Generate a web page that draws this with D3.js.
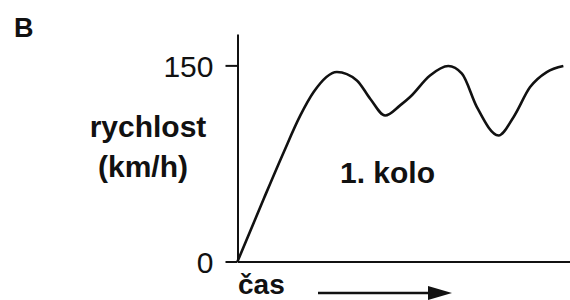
<!DOCTYPE html>
<html>
<head>
  <meta charset="utf-8">
  <script src="https://cdn.jsdelivr.net/npm/d3@7"></script>
  <style>
    body { margin: 0; background: #fff; }
    svg text { font-family: "Liberation Sans", Arial, Helvetica, sans-serif; fill: #111; }
    .axis path, .axis line { stroke: #111; stroke-width: 2; }
  </style>
</head>
<body>
<script>
  // time (arbitrary units 0-100) and speed (km/h)
  var time  = [0, 7.9, 13.9, 18.9, 22.9, 29.9, 35.9, 39.9, 44.4, 48.9, 51.9, 57.9, 63.4, 67.5, 72, 78.5, 83, 88, 93, 98];
  var speed = [0, 48, 83.6, 111.7, 129.6, 144.9, 138.5, 124.5, 111.7, 119.4, 125.8, 142.3, 149.5, 143.7, 118.1, 96.4, 110.4, 133.4, 144.9, 149.5];
  var yTicks = [0, 150];

  var width = 570, height = 300;

  var svg = d3.select("body")
    .append("svg")
      .attr("width", width)
      .attr("height", height);

  var x = d3.scaleLinear().domain([0, 100]).range([237.5, 570]);
  var y = d3.scaleLinear().domain([0, 174]).range([261.5, 34]);

  // y axis
  var yAxis = d3.axisLeft(y)
    .tickValues(yTicks)
    .tickSize(12)
    .tickSizeOuter(0)
    .tickPadding(12);

  var gy = svg.append("g")
    .attr("class", "axis")
    .attr("transform", "translate(" + x(0) + ",0)")
    .call(yAxis);
  gy.selectAll("text")
    .style("font-size", "30px")
    .attr("dy", "0.36em");

  // x axis, no ticks
  svg.append("g")
    .attr("class", "axis")
    .attr("transform", "translate(0," + y(0) + ")")
    .call(d3.axisBottom(x).tickValues([]).tickSizeOuter(0));

  // curve
  var line = d3.line()
    .x(function(d, i) { return x(time[i]); })
    .y(function(d) { return y(d); })
    .curve(d3.curveMonotoneX);

  svg.append("path")
    .datum(speed)
    .attr("d", line)
    .attr("fill", "none")
    .attr("stroke", "#111")
    .attr("stroke-width", 2.6);

  // labels
  svg.append("text")
    .attr("x", 14).attr("y", 37)
    .style("font-size", "27px").style("font-weight", "bold")
    .text("B");

  svg.append("text")
    .attr("x", 148).attr("y", 137)
    .attr("text-anchor", "middle")
    .style("font-size", "30px").style("font-weight", "bold")
    .text("rychlost");

  svg.append("text")
    .attr("x", 143).attr("y", 177)
    .attr("text-anchor", "middle")
    .style("font-size", "30px").style("font-weight", "bold")
    .text("(km/h)");

  svg.append("text")
    .attr("x", 340).attr("y", 183)
    .style("font-size", "30px").style("font-weight", "bold")
    .text("1. kolo");

  svg.append("text")
    .attr("x", 238).attr("y", 294)
    .style("font-size", "28px").style("font-weight", "bold")
    .text("čas");

  // time arrow
  svg.append("line")
    .attr("x1", 318).attr("x2", 432)
    .attr("y1", 293).attr("y2", 293)
    .attr("stroke", "#111")
    .attr("stroke-width", 2.5);

  svg.append("path")
    .attr("d", "M428,286 L452,293 L428,300 Z")
    .attr("fill", "#111");
</script>
</body>
</html>
